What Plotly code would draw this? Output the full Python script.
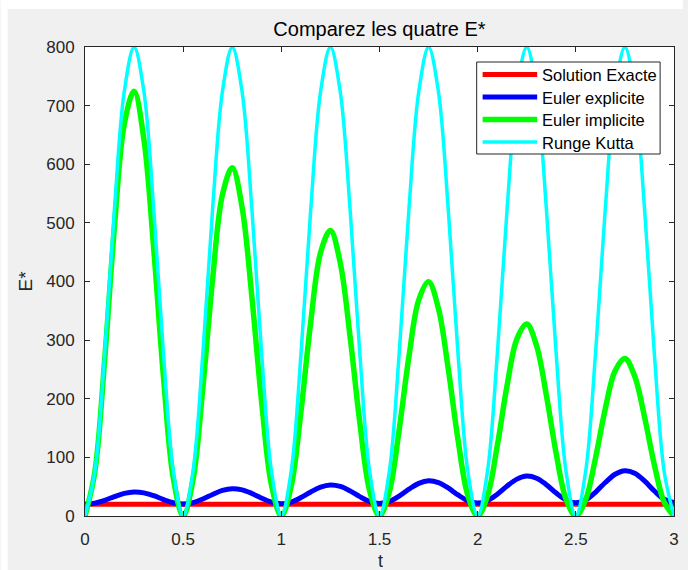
import plotly.graph_objects as go

# Time samples (s)
T = [round(0.05 * k, 2) for k in range(61)]

# Exact solution: constant level
T_EXACT = [0.0, 3.0]
E_EXACT = [20.0, 20.0]

# Explicit Euler
E_EULER_EXP = [
    20.0, 21.9, 26.8, 33.1, 38.6, 41.0, 39.5, 34.6, 28.1, 22.6,
    20.5, 22.8, 29.0, 36.8, 43.6, 46.6, 44.6, 38.5, 30.4, 23.6,
    21.0, 23.8, 31.4, 41.0, 49.2, 52.8, 50.4, 42.9, 33.0, 24.7,
    21.5, 24.9, 34.1, 45.8, 55.6, 60.0, 57.0, 47.8, 35.9, 25.9,
    22.0, 26.1, 37.1, 51.1, 62.9, 68.1, 64.5, 53.4, 39.1, 27.2,
    22.5, 27.4, 40.5, 57.1, 71.2, 77.3, 73.0, 59.8, 42.7, 28.5,
    23.0,
]

# Implicit Euler
E_EULER_IMP = [
    0.0, 74.9, 265.7, 493.4, 668.4, 724.4, 642.4, 455.7, 235.8, 63.9,
    0.0, 61.4, 217.8, 404.5, 548.1, 594.0, 526.8, 373.7, 193.4, 52.4,
    0.0, 50.4, 178.6, 331.7, 449.4, 487.1, 432.0, 306.4, 158.6, 43.0,
    0.0, 41.3, 146.5, 272.0, 368.6, 399.4, 354.2, 251.3, 130.0, 35.2,
    0.0, 33.9, 120.1, 223.1, 302.2, 327.5, 290.4, 206.0, 106.6, 28.9,
    0.0, 27.8, 98.5, 182.9, 247.8, 268.6, 238.2, 168.9, 87.4, 23.7,
    0.0,
]

# Runge Kutta
E_RK = [
    0, 76, 276, 524, 724, 800, 724, 524, 276, 76,
    0, 76, 276, 524, 724, 800, 724, 524, 276, 76,
    0, 76, 276, 524, 724, 800, 724, 524, 276, 76,
    0, 76, 276, 524, 724, 800, 724, 524, 276, 76,
    0, 76, 276, 524, 724, 800, 724, 524, 276, 76,
    0, 76, 276, 524, 724, 800, 724, 524, 276, 76,
    0,
]

SERIES = [
    ("Solution Exacte", T_EXACT, E_EXACT, "#FF0000", 5),
    ("Euler explicite", T, E_EULER_EXP, "#0000FF", 5),
    ("Euler implicite", T, E_EULER_IMP, "#00FF00", 5.5),
    ("Runge Kutta", T, E_RK, "#00FFFF", 3.5),
]

X_TICKS = [0, 0.5, 1, 1.5, 2, 2.5, 3]
X_TICK_TEXT = ["0", "0.5", "1", "1.5", "2", "2.5", "3"]
Y_TICKS = [0, 100, 200, 300, 400, 500, 600, 700, 800]

W, H = 688, 570
ML, MR, MT, MB = 85, 9, 47, 54
PW, PH = W - ML - MR, H - MT - MB

FONT = "Liberation Sans, Arial, sans-serif"
AXC = "#262626"


def px(x):
    return (x - ML) / PW


def py(y):
    return (H - MB - y) / PH


fig = go.Figure()
for name, xs, ys, color, width in SERIES:
    fig.add_trace(go.Scatter(
        x=xs, y=ys, name=name, mode="lines",
        line=dict(color=color, width=width, shape="spline", smoothing=1),
        showlegend=False,
    ))

axis_common = dict(
    showline=True, linecolor=AXC, linewidth=1, mirror="ticks",
    ticks="inside", ticklen=5, tickwidth=1, tickcolor=AXC,
    showgrid=False, zeroline=False,
    tickfont=dict(family=FONT, size=17, color=AXC),
)

fig.update_xaxes(range=[0, 3], tickvals=X_TICKS, ticktext=X_TICK_TEXT,
                 ticklabelstandoff=8, **axis_common)
fig.update_yaxes(range=[0, 800], tickvals=Y_TICKS,
                 ticklabelstandoff=6, **axis_common)

shapes = [
    # white strips along the top and left edges of the figure
    dict(type="rect", xref="paper", yref="paper", x0=px(0), x1=px(7),
         y0=py(H), y1=py(0), fillcolor="white", line=dict(width=0), layer="below"),
    dict(type="rect", xref="paper", yref="paper", x0=px(0), x1=px(W),
         y0=py(9), y1=py(0), fillcolor="white", line=dict(width=0), layer="below"),
    # legend box
    dict(type="rect", xref="paper", yref="paper", x0=px(480), x1=px(665),
         y0=py(154), y1=py(62), fillcolor="white", line=dict(color=AXC, width=1)),
]

annotations = []
row_y = [74.5, 97, 119.5, 142]
for (name, _, _, color, width), ry in zip(SERIES, row_y):
    shapes.append(dict(type="line", xref="paper", yref="paper",
                       x0=px(486), x1=px(541), y0=py(ry), y1=py(ry),
                       line=dict(color=color, width=width)))
    annotations.append(dict(text=name, xref="paper", yref="paper",
                            x=px(544), y=py(ry + 0.5), xanchor="left", yanchor="middle",
                            showarrow=False,
                            font=dict(family=FONT, size=16.5, color="#000000")))

annotations.append(dict(text="t", xref="paper", yref="paper",
                        x=px(383), y=py(561), xanchor="center", yanchor="middle",
                        height=16, valign="middle",
                        showarrow=False, font=dict(family=FONT, size=18, color=AXC)))
annotations.append(dict(text="E*", xref="paper", yref="paper",
                        x=px(24), y=py(281), xanchor="center", yanchor="middle",
                        textangle=-90, showarrow=False,
                        font=dict(family=FONT, size=19, color=AXC)))

fig.update_layout(
    width=W, height=H,
    margin=dict(l=ML, r=MR, t=MT, b=MB, pad=0),
    paper_bgcolor="#F0F0F0", plot_bgcolor="white",
    title=dict(text="Comparez les quatre E*", x=0.5, xref="paper", xanchor="center",
               y=1 - 29 / H, yanchor="middle", yref="container",
               font=dict(family=FONT, size=20, color="#000000")),
    shapes=shapes, annotations=annotations,
    showlegend=False,
)

fig.write_html("out.html")
